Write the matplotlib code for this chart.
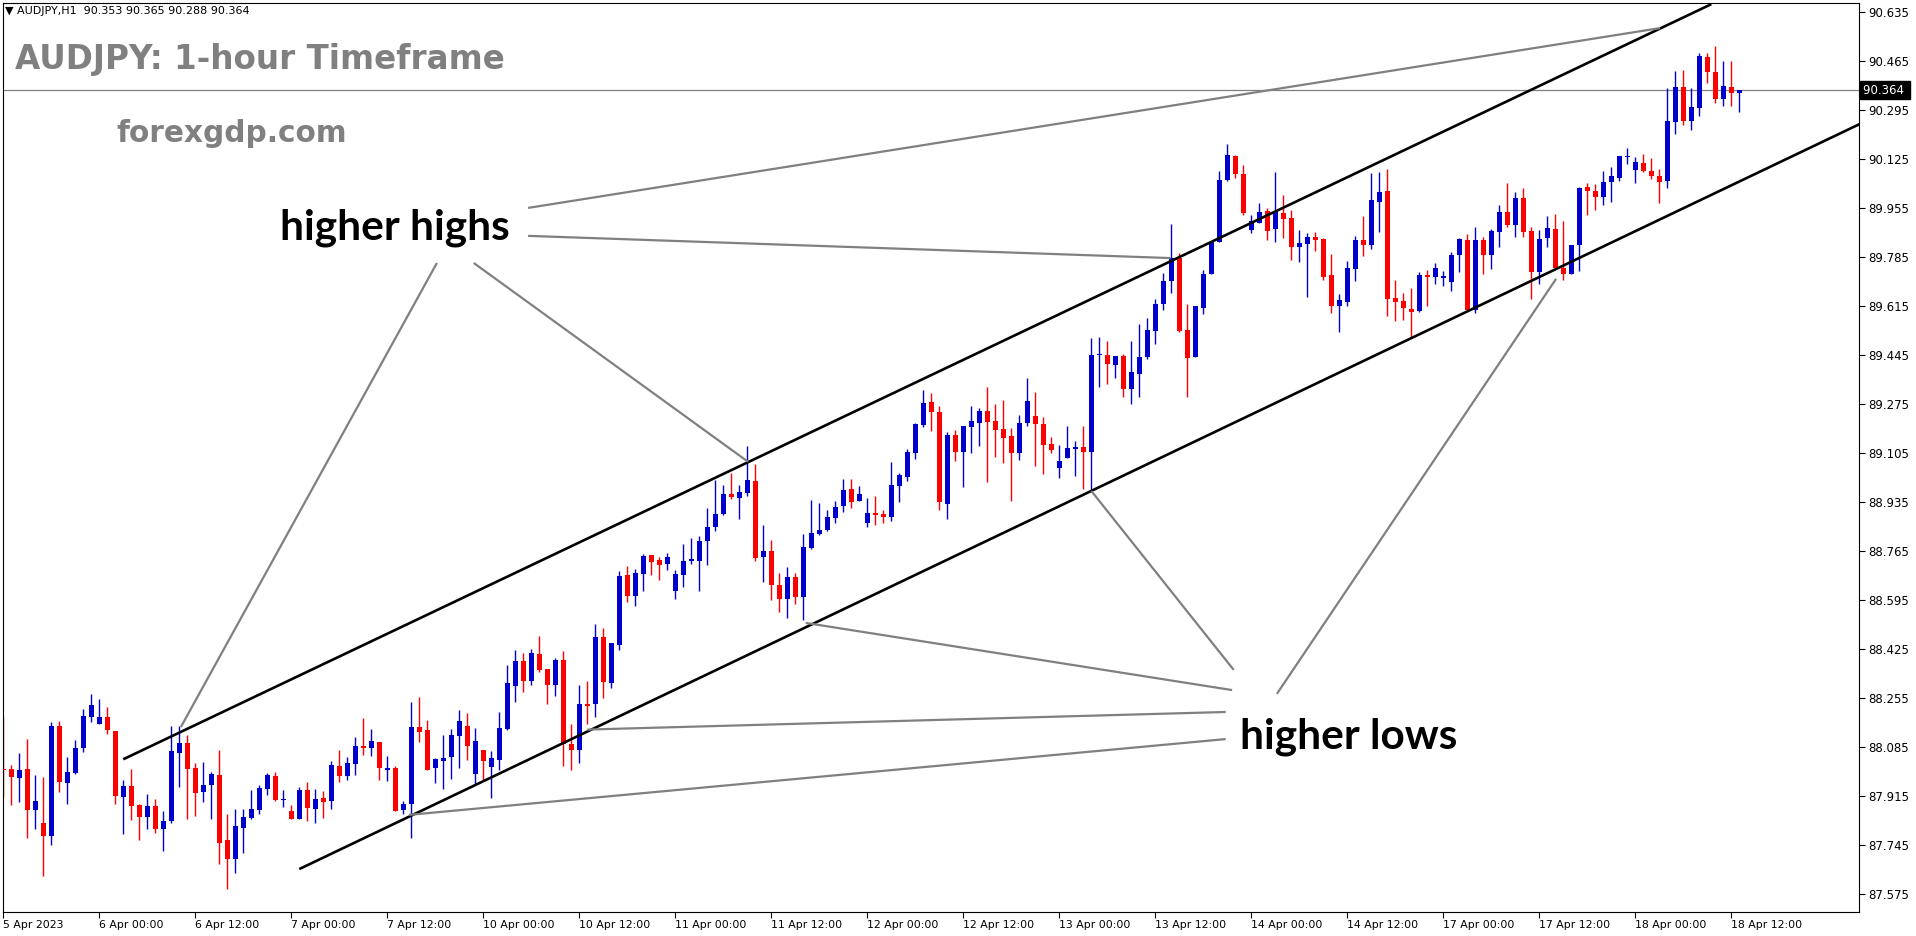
import matplotlib.pyplot as plt
import numpy as np

# ── Data (AUDJPY H1, bar 0 = 5 Apr 12:00) ─────────────
opens = [88.007, 88.008, 87.978, 88.008, 87.866, 87.821, 87.777, 88.158, 87.961, 87.994,
         88.081, 88.190, 88.166, 88.189, 88.140, 87.912, 87.949, 87.883, 87.843, 87.880,
         87.801, 87.829, 88.065, 88.099, 88.012, 87.930, 87.951, 87.988, 87.762, 87.697,
         87.805, 87.839, 87.867, 87.940, 87.984, 87.902, 87.863, 87.836, 87.935, 87.871,
         87.908, 87.898, 88.019, 87.985, 88.027, 88.088, 88.082, 88.102, 88.006, 88.013,
         87.867, 87.885, 88.154, 88.144, 88.013, 88.037, 88.051, 88.124, 88.158, 87.992,
         88.074, 88.016, 88.041, 88.147, 88.297, 88.383, 88.315, 88.407, 88.355, 88.298,
         88.387, 88.095, 88.075, 88.234, 88.232, 88.466, 88.308, 88.440, 88.682, 88.610,
         88.686, 88.751, 88.734, 88.721, 88.627, 88.683, 88.730, 88.731, 88.801, 88.849,
         88.894, 88.963, 88.950, 88.965, 89.008, 88.745, 88.765, 88.647, 88.599, 88.675,
         88.606, 88.776, 88.825, 88.839, 88.880, 88.919, 88.980, 88.939, 88.863, 88.897,
         88.893, 88.883, 88.990, 89.022, 89.105, 89.202, 89.282, 89.247, 88.929, 89.167,
         89.108, 89.195, 89.210, 89.251, 89.216, 89.188, 89.164, 89.106, 89.209, 89.233,
         89.205, 89.136, 89.054, 89.089, 89.119, 89.126, 89.109, 89.443, 89.445, 89.411,
         89.441, 89.325, 89.380, 89.439, 89.529, 89.620, 89.700, 89.780, 89.531, 89.436,
         89.609, 89.724, 89.835, 90.052, 90.135, 90.073, 89.880, 89.904, 89.944, 89.883,
         89.938, 89.920, 89.821, 89.831, 89.854, 89.847, 89.722, 89.613, 89.630, 89.744,
         89.844, 89.828, 89.977, 90.014, 89.643, 89.632, 89.604, 89.599, 89.722, 89.717,
         89.713, 89.699, 89.790, 89.844, 89.602, 89.844, 89.793, 89.873, 89.941, 89.894,
         89.990, 89.875, 89.734, 89.849, 89.882, 89.748, 89.727, 89.828, 90.028, 90.014,
         89.994, 90.045, 90.060, 90.130, 90.088, 90.111, 90.083, 90.066, 90.050, 90.254,
         90.375, 90.258, 90.303, 90.479, 90.427, 90.334, 90.375, 90.353]
highs = [88.188, 88.022, 88.065, 88.112, 87.988, 87.981, 88.171, 88.175, 88.050, 88.109,
         88.217, 88.269, 88.251, 88.223, 88.140, 87.970, 88.008, 87.887, 87.922, 87.904,
         87.863, 88.158, 88.158, 88.126, 88.029, 88.033, 87.998, 88.074, 87.852, 87.870,
         87.870, 87.935, 87.953, 87.994, 87.998, 87.935, 87.883, 87.946, 87.963, 87.939,
         87.932, 88.036, 88.074, 88.050, 88.119, 88.185, 88.147, 88.102, 88.053, 88.020,
         87.898, 88.241, 88.258, 88.178, 88.047, 88.126, 88.147, 88.213, 88.203, 88.151,
         88.074, 88.071, 88.206, 88.369, 88.421, 88.411, 88.425, 88.470, 88.355, 88.394,
         88.418, 88.165, 88.300, 88.315, 88.511, 88.498, 88.446, 88.695, 88.713, 88.702,
         88.754, 88.751, 88.744, 88.758, 88.699, 88.789, 88.810, 88.817, 88.913, 89.011,
         88.994, 89.035, 88.994, 89.130, 89.067, 88.855, 88.803, 88.688, 88.710, 88.688,
         88.824, 88.942, 88.931, 88.907, 88.938, 89.015, 89.015, 88.990, 88.949, 88.956,
         88.907, 89.074, 89.035, 89.119, 89.209, 89.323, 89.313, 89.268, 89.178, 89.185,
         89.199, 89.268, 89.261, 89.334, 89.275, 89.289, 89.192, 89.237, 89.365, 89.317,
         89.230, 89.160, 89.133, 89.199, 89.147, 89.199, 89.504, 89.507, 89.493, 89.441,
         89.448, 89.493, 89.552, 89.572, 89.640, 89.730, 89.900, 89.800, 89.620, 89.615,
         89.740, 89.837, 90.083, 90.177, 90.139, 90.104, 89.931, 89.972, 89.955, 90.080,
         90.000, 89.948, 89.879, 89.868, 89.872, 89.851, 89.795, 89.656, 89.771, 89.858,
         89.927, 90.076, 90.080, 90.090, 89.705, 89.660, 89.677, 89.733, 89.740, 89.764,
         89.736, 89.802, 89.851, 89.865, 89.889, 89.854, 89.882, 89.965, 90.042, 90.010,
         90.024, 89.889, 89.879, 89.927, 89.934, 89.910, 89.827, 90.028, 90.042, 90.038,
         90.083, 90.097, 90.135, 90.163, 90.132, 90.142, 90.128, 90.090, 90.371, 90.430,
         90.434, 90.371, 90.493, 90.493, 90.517, 90.465, 90.465, 90.365]
lows = [87.912, 87.883, 87.895, 87.770, 87.800, 87.638, 87.746, 87.930, 87.888, 87.991,
        88.068, 88.171, 88.166, 88.131, 87.888, 87.784, 87.832, 87.763, 87.801, 87.787,
        87.725, 87.822, 87.944, 87.833, 87.846, 87.895, 87.836, 87.680, 87.593, 87.649,
        87.718, 87.833, 87.853, 87.919, 87.898, 87.878, 87.833, 87.833, 87.829, 87.822,
        87.839, 87.871, 87.964, 87.970, 87.989, 88.058, 88.055, 87.971, 87.968, 87.864,
        87.853, 87.770, 88.103, 88.003, 87.961, 87.940, 87.975, 88.010, 88.041, 87.957,
        87.971, 87.909, 88.006, 88.144, 88.239, 88.277, 88.301, 88.346, 88.235, 88.263,
        88.020, 88.006, 88.030, 88.166, 88.190, 88.256, 88.289, 88.422, 88.586, 88.575,
        88.627, 88.683, 88.665, 88.697, 88.599, 88.638, 88.721, 88.627, 88.717, 88.835,
        88.891, 88.946, 88.874, 88.957, 88.731, 88.658, 88.596, 88.554, 88.533, 88.582,
        88.525, 88.773, 88.821, 88.835, 88.862, 88.901, 88.915, 88.939, 88.849, 88.855,
        88.861, 88.870, 88.936, 89.008, 89.084, 89.195, 89.181, 88.908, 88.877, 89.077,
        88.988, 89.105, 89.129, 89.004, 89.091, 89.070, 88.938, 89.082, 89.199, 89.061,
        89.033, 89.103, 89.019, 89.089, 89.026, 88.978, 88.971, 89.335, 89.345, 89.366,
        89.300, 89.276, 89.300, 89.432, 89.484, 89.600, 89.660, 89.524, 89.300, 89.436,
        89.588, 89.724, 89.835, 90.049, 90.060, 89.932, 89.869, 89.904, 89.842, 89.838,
        89.852, 89.776, 89.769, 89.647, 89.807, 89.706, 89.592, 89.526, 89.613, 89.703,
        89.788, 89.814, 89.873, 89.581, 89.561, 89.567, 89.505, 89.595, 89.613, 89.692,
        89.685, 89.665, 89.734, 89.602, 89.592, 89.727, 89.744, 89.821, 89.890, 89.855,
        89.855, 89.640, 89.692, 89.821, 89.744, 89.706, 89.727, 89.737, 89.932, 89.949,
        89.966, 89.977, 90.050, 90.109, 90.043, 90.078, 90.057, 89.973, 90.025, 90.213,
        90.244, 90.227, 90.275, 90.390, 90.320, 90.307, 90.310, 90.288]
closes = [88.003, 87.982, 88.005, 87.866, 87.897, 87.777, 88.158, 87.964, 87.998, 88.081,
          88.192, 88.230, 88.189, 88.145, 87.916, 87.949, 87.881, 87.843, 87.880, 87.801,
          87.828, 88.071, 88.099, 88.009, 87.926, 87.953, 87.991, 87.753, 87.697, 87.811,
          87.842, 87.870, 87.942, 87.988, 87.901, 87.904, 87.836, 87.935, 87.874, 87.904,
          87.895, 88.022, 87.985, 88.029, 88.088, 88.082, 88.106, 88.010, 88.013, 87.864,
          87.888, 88.154, 88.138, 88.006, 88.043, 88.047, 88.126, 88.175, 88.089, 88.106,
          88.037, 88.047, 88.151, 88.307, 88.383, 88.315, 88.411, 88.350, 88.301, 88.387,
          88.094, 88.075, 88.234, 88.228, 88.466, 88.311, 88.446, 88.678, 88.610, 88.688,
          88.747, 88.728, 88.717, 88.744, 88.685, 88.730, 88.737, 88.800, 88.848, 88.893,
          88.963, 88.953, 88.970, 89.011, 88.742, 88.765, 88.645, 88.599, 88.675, 88.606,
          88.779, 88.827, 88.838, 88.883, 88.917, 88.976, 88.936, 88.963, 88.897, 88.890,
          88.883, 88.994, 89.029, 89.108, 89.205, 89.278, 89.247, 88.933, 89.167, 89.108,
          89.199, 89.216, 89.251, 89.212, 89.185, 89.157, 89.103, 89.209, 89.285, 89.205,
          89.133, 89.115, 89.077, 89.122, 89.126, 89.109, 89.445, 89.448, 89.415, 89.441,
          89.325, 89.386, 89.438, 89.532, 89.620, 89.700, 89.780, 89.529, 89.435, 89.615,
          89.726, 89.837, 90.052, 90.139, 90.074, 89.939, 89.910, 89.941, 89.876, 89.944,
          89.918, 89.821, 89.833, 89.854, 89.845, 89.717, 89.613, 89.636, 89.747, 89.844,
          89.828, 89.983, 90.010, 89.640, 89.630, 89.606, 89.595, 89.722, 89.715, 89.747,
          89.719, 89.792, 89.847, 89.602, 89.844, 89.793, 89.875, 89.941, 89.894, 89.990,
          89.873, 89.734, 89.847, 89.886, 89.748, 89.727, 89.827, 90.024, 90.012, 89.994,
          90.045, 90.066, 90.135, 90.135, 90.115, 90.084, 90.064, 90.046, 90.257, 90.375,
          90.258, 90.305, 90.482, 90.428, 90.334, 90.378, 90.352, 90.364]

time_labels = ["5 Apr 2023", "6 Apr 00:00", "6 Apr 12:00", "7 Apr 00:00", "7 Apr 12:00",
               "10 Apr 00:00", "10 Apr 12:00", "11 Apr 00:00", "11 Apr 12:00", "12 Apr 00:00",
               "12 Apr 12:00", "13 Apr 00:00", "13 Apr 12:00", "14 Apr 00:00", "14 Apr 12:00",
               "17 Apr 00:00", "17 Apr 12:00", "18 Apr 00:00", "18 Apr 12:00"]
bars_per_label = 12
price_ticks = [90.635, 90.465, 90.295, 90.125, 89.955, 89.785, 89.615, 89.445, 89.275, 89.105,
               88.935, 88.765, 88.595, 88.425, 88.255, 88.085, 87.915, 87.745, 87.575]
last_price = 90.364

# channel lines: (bar index, price) anchors
upper_channel = [(15.0, 88.042), (213.5, 90.662)]
lower_channel = [(37.0, 87.661), (232.5, 90.252)]

# annotation pointers: (bar index, price) pairs
highs_pointers = [[(65.6, 89.955), (207.1, 90.579)],
                  [(65.6, 89.858), (145.9, 89.781)],
                  [(54.2, 89.764), (22.2, 88.154)],
                  [(58.8, 89.764), (93.1, 89.074)]]
lows_pointers = [[(153.8, 88.352), (136.0, 88.973)],
                 [(153.6, 88.282), (100.3, 88.515)],
                 [(152.8, 88.206), (73.0, 88.145)],
                 [(152.8, 88.112), (50.7, 87.849)],
                 [(159.2, 88.269), (194.1, 89.709)]]

BLUE = "#0000CC"
RED = "#FF0000"
GRAY = "#808080"

# ── Figure ────────────────────────────────────────────
W, H = 1916, 936
fig = plt.figure(figsize=(W / 100, H / 100), dpi=100)
ax = fig.add_axes([2.7 / W, 1 - 912 / H, (1859 - 2.7) / W, (912 - 3) / H])
ax.set_xlim(-0.075, 231.96)
ax.set_ylim(87.512, 90.666)

o = np.array(opens)
c = np.array(closes)
hi = np.array(highs)
lo = np.array(lows)
idx = np.arange(len(o))
colors = np.where(c >= o, BLUE, RED)

# ── Candles ───────────────────────────────────────────
ax.vlines(idx, lo, hi, colors=colors, linewidth=1.0, zorder=2)
body_h = np.maximum(np.abs(c - o), 0.0035)
ax.bar(idx, body_h, bottom=np.minimum(o, c), width=0.62, color=colors,
       linewidth=0, zorder=3)

# ── Last price line ───────────────────────────────────
ax.axhline(last_price, color=GRAY, linewidth=0.9, zorder=1)

# ── Channel + pointers ────────────────────────────────
for line in (upper_channel, lower_channel):
    xs, ys = zip(*line)
    ax.plot(xs, ys, color="black", linewidth=1.9, zorder=4, solid_capstyle="butt")
for line in highs_pointers + lows_pointers:
    xs, ys = zip(*line)
    ax.plot(xs, ys, color=GRAY, linewidth=1.6, zorder=4, solid_capstyle="butt")

# ── Axes styling ──────────────────────────────────────
for s in ax.spines.values():
    s.set_color("black")
    s.set_linewidth(0.8)
ax.yaxis.tick_right()
ax.set_yticks(price_ticks)
ax.set_yticklabels([f"{p:.3f}" for p in price_ticks])
ax.tick_params(axis="y", direction="out", length=4, width=0.8, pad=3,
               labelsize=8.5, colors="black")
tick_pos = [k * bars_per_label for k in range(len(time_labels))]
ax.set_xticks(tick_pos)
ax.set_xticklabels(time_labels, ha="left")
ax.tick_params(axis="x", direction="out", length=4, width=0.8, pad=2,
               labelsize=7.8, colors="black")

# current price tag
ax.text(1.002, last_price, "90.364 ", transform=ax.get_yaxis_transform(),
        ha="left", va="center", fontsize=8.5, color="white", zorder=6,
        bbox=dict(boxstyle="square,pad=0.25", facecolor="black", edgecolor="black"))

# ── Texts ─────────────────────────────────────────────
def px(x, y):
    return x / W, 1 - y / H

fig.text(*px(5, 11), "\u25bc AUDJPY,H1  90.353 90.365 90.288 90.364",
         fontsize=8, va="center", ha="left", color="black")
fig.text(*px(15, 59), "AUDJPY: 1-hour Timeframe", fontsize=23.5, fontweight="bold",
         color=GRAY, va="center", ha="left")
fig.text(*px(116, 134), "forexgdp.com", fontsize=21.3, fontweight="bold",
         color=GRAY, va="center", ha="left")
fig.text(*px(280, 228), "higher highs", fontsize=30.5, fontweight="bold",
         family="Lato", color="black", va="center", ha="left")
fig.text(*px(1240, 737), "higher lows", fontsize=30.5, fontweight="bold",
         family="Lato", color="black", va="center", ha="left")

fig.savefig("out.png", dpi=100, facecolor="white")
